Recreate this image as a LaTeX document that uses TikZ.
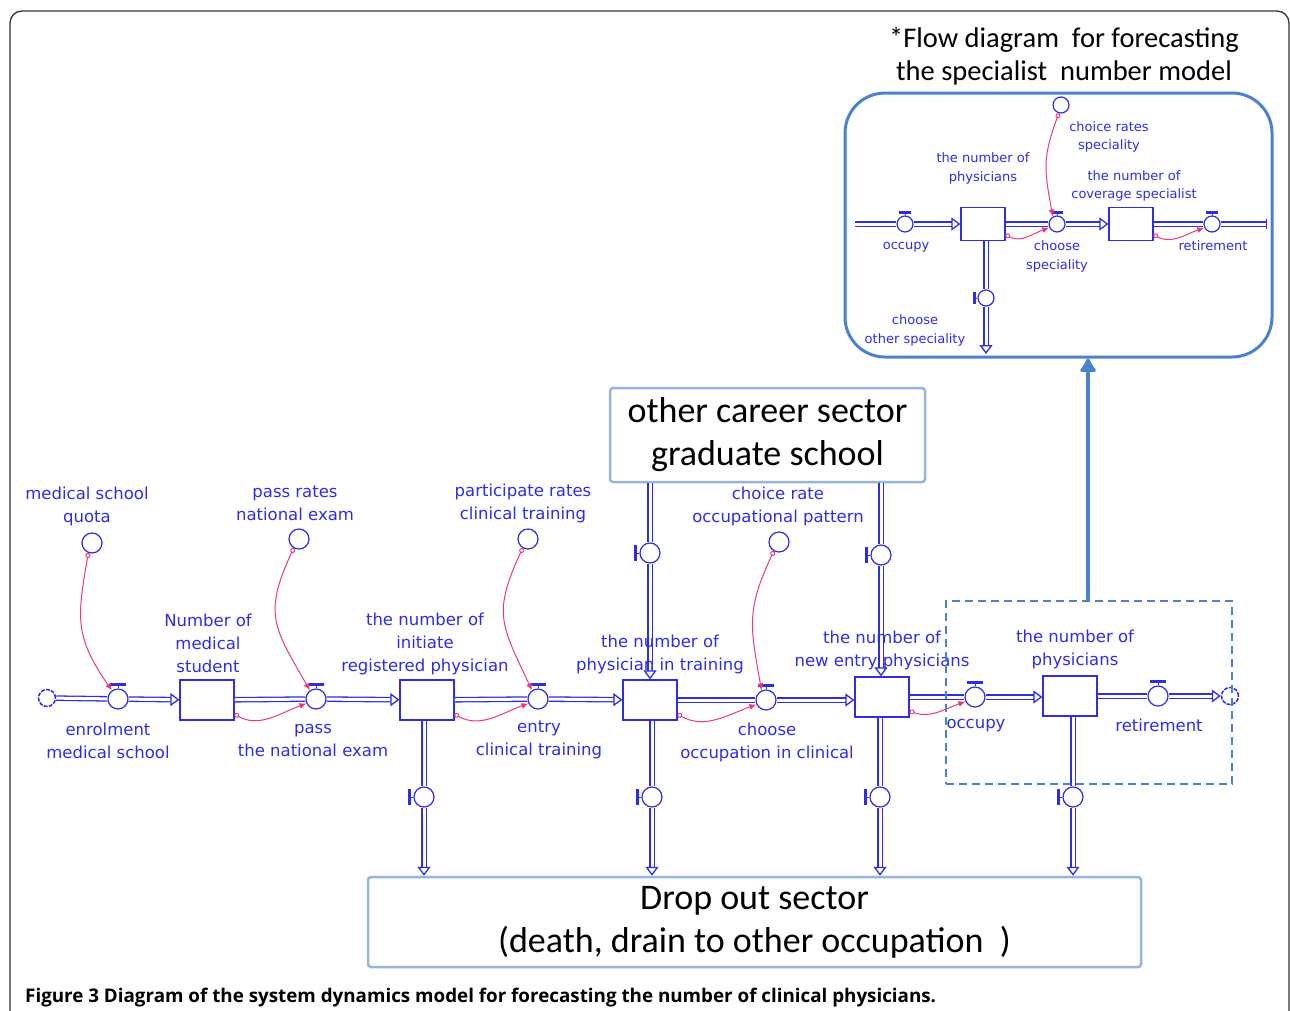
\documentclass[tikz,border=0pt]{standalone}
\usepackage{fontspec}
\setmainfont{DejaVu Sans}
\newfontfamily\boxfont{Carlito}
\newfontfamily\capfont{Open Sans}
\usetikzlibrary{arrows.meta,positioning}

\definecolor{flowblue}{RGB}{45,45,225}
\definecolor{linkpink}{RGB}{235,55,125}
\definecolor{sectorblue}{RGB}{150,180,220}
\definecolor{zoomblue}{RGB}{75,130,205}

\tikzset{
  stock/.style={draw=flowblue, fill=white, line width=1.2pt, minimum width=54pt, minimum height=40pt, inner sep=0pt},
  valve/.style={circle, draw=flowblue, fill=white, line width=1.2pt, minimum size=20pt, inner sep=0pt},
  aux/.style={circle, draw=flowblue, line width=1.2pt, minimum size=20pt, inner sep=0pt},
  cloud/.style={circle, draw=flowblue, fill=white, line width=1.5pt, dash pattern=on 4pt off 1.2pt, minimum size=17pt, inner sep=0pt},
  pipe/.style={draw=flowblue, double=white, double distance=3pt, line width=1.3pt},
  pipein/.style={pipe, -{Triangle[open, length=9pt, width=13pt]}},
  link/.style={draw=linkpink, line width=1pt, {Circle[open, length=5pt]}-{Latex[length=7pt, width=6pt]}},
  lbl/.style={text=flowblue, font=\fontsize{16.5}{23}\selectfont, align=center},
  small/.style={text=flowblue, font=\fontsize{13}{18.5}\selectfont, align=center},
  sector/.style={draw=sectorblue, line width=2.5pt, rounded corners=3pt, fill=white, align=center, font=\boxfont\fontsize{36}{43}\selectfont}
}

% valve handles
\newcommand{\gatetop}[2][8]{%
  \draw[flowblue, line width=1pt] (#2.north) -- ++(0,#1/2);
  \draw[flowblue, line width=2.4pt] (#2.north) ++(-#1,#1/2) -- ++(2*#1,0);}
\newcommand{\gateleft}[2][8]{%
  \draw[flowblue, line width=1pt] (#2.west) -- ++(-#1/2,0);
  \draw[flowblue, line width=2.4pt] (#2.west) ++(-#1/2,-#1) -- ++(0,2*#1);}

\begin{document}
\begin{tikzpicture}[x=1pt, y=1pt]
  \useasboundingbox (0,0) rectangle (1290,-1010);
  % outer frame
  \draw[black!80, line width=1.3pt, rounded corners=12pt] (10,-11) rectangle (1289,-1040);

  % sectors
  \node[sector, minimum width=315pt, minimum height=94pt] (career) at (767.5,-435) {other career sector\\graduate school};
  \node[sector, minimum width=773pt, minimum height=90pt] (drop) at (754.5,-922) {Drop out sector\\(death, drain to other occupation~~)};

  % stocks
  \node[stock] (s1) at (207,-700) {};
  \node[stock] (s2) at (427,-700) {};
  \node[stock] (s3) at (650,-700) {};
  \node[stock] (s4) at (882,-697) {};
  \node[stock] (s5) at (1070,-696) {};

  % flows along the chain
  \node[cloud] (src) at (47,-698) {};
  \node[valve] (v1) at (118,-699) {};
  \node[valve] (v2) at (316,-699) {};
  \node[valve] (v3) at (538,-699) {};
  \node[valve] (v4) at (766,-700) {};
  \node[valve] (v5) at (975,-697) {};
  \node[valve] (v6) at (1158,-696) {};
  \node[cloud] (sink) at (1230,-696) {};
  \foreach \v in {v1,v2,v3,v4,v5,v6} {\gatetop{\v}}

  \draw[pipe] (src) -- (v1);
  \draw[pipein] (v1) -- (s1);
  \draw[pipe] (s1) -- (v2);
  \draw[pipein] (v2) -- (s2);
  \draw[pipe] (s2) -- (v3);
  \draw[pipein] (v3) -- (s3);
  \draw[pipe] (s3.east |- v4) -- (v4);
  \draw[pipein] (v4) -- (s4.west |- v4);
  \draw[pipe] (s4.east |- v5) -- (v5);
  \draw[pipein] (v5) -- (s5.west |- v5);
  \draw[pipe] (s5) -- (v6);
  \draw[pipein] (v6) -- (sink);

  % inflows from the career sector
  \node[valve] (vi3) at (650,-553) {};
  \node[valve] (vi4) at (881,-555) {};
  \foreach \v in {vi3,vi4} {\gateleft{\v}}
  \draw[pipe] (career.south -| vi3) -- (vi3);
  \draw[pipein] (vi3) -- (s3.north);
  \draw[pipe] (career.south -| vi4) -- (vi4);
  \draw[pipein] (vi4) -- (s4.north -| vi4);

  % outflows to the drop out sector
  \node[valve] (vo2) at (424,-797) {};
  \node[valve] (vo3) at (652,-797) {};
  \node[valve] (vo4) at (880,-797) {};
  \node[valve] (vo5) at (1073,-797) {};
  \foreach \v in {vo2,vo3,vo4,vo5} {\gateleft{\v}}
  \foreach \s/\v in {s2/vo2,s3/vo3,s4/vo4,s5/vo5} {
    \draw[pipe] (\s.south -| \v) -- (\v);
    \draw[pipein] (\v) -- (drop.north -| \v);
  }

  % auxiliaries
  \node[aux] (a1) at (92,-543) {};
  \node[aux] (a2) at (299,-539) {};
  \node[aux] (a3) at (528,-539) {};
  \node[aux] (a4) at (779,-542) {};

  % links
  \draw[link] (a1.250) to[out=-100, in=125, looseness=1.2] (v1.125);
  \draw[link] (a2.240) to[out=-115, in=120, looseness=1.3] (v2.125);
  \draw[link] (a3.240) to[out=-115, in=115, looseness=1.3] (v3.125);
  \draw[link] (a4.240) to[out=-115, in=100, looseness=1.2] (v4.115);
  \draw[link] (s1.-27) to[out=-30, in=200] (v2.205);
  \draw[link] (s2.-27) to[out=-30, in=200] (v3.205);
  \draw[link] (s3.-27) to[out=-30, in=200] (v4.205);
  \draw[link] (s4.-27) to[out=-20, in=200] (v5.205);

  % labels
  \node[lbl] at (87,-506.5) {medical school\\quota};
  \node[lbl] at (295,-503.5) {pass rates\\national exam};
  \node[lbl] at (523,-503) {participate rates\\clinical training};
  \node[lbl] at (778,-506.5) {choice rate\\occupational pattern};
  \node[lbl] at (208,-643) {Number of\\medical\\student};
  \node[lbl] at (425,-644) {the number of\\initiate\\registered physician};
  \node[lbl] at (660,-654) {the number of\\physician in training};
  \node[lbl] at (882,-650.5) {the number of\\new entry physicians};
  \node[lbl] at (1075,-649.5) {the number of\\physicians};
  \node[lbl] at (108,-740.5) {enrolment\\medical school};
  \node[lbl] at (313,-740) {pass\\the national exam};
  \node[lbl] at (539,-740) {entry\\clinical training};
  \node[lbl] at (767,-742) {choose\\occupation in clinical};
  \node[lbl] at (976,-726) {occupy};
  \node[lbl] at (1159,-725) {retirement};

  % zoomed part and inset
  \node[draw=zoomblue, line width=2.5pt, dash pattern=on 8pt off 5pt, minimum width=286pt, minimum height=183pt] (zoom) at (1089,-692.5) {};
  \node[draw=zoomblue, line width=3pt, rounded corners=40pt, minimum width=427pt, minimum height=264pt] (inset) at (1058.5,-225) {};
  \draw[zoomblue, line width=4pt, -{Latex[length=16pt, width=20pt, round]}] (zoom.north -| 1088,0) -- (inset.south -| 1088,0);
  \node[font=\boxfont\fontsize{28.5}{33}\selectfont, align=center] (title) at (1064,-56) {*Flow diagram~~for forecasting\\the specialist~~number model};

  % inset model
  \coordinate (istart) at (855,-224);
  \coordinate (iend) at (1266,-224);
  \node[valve, minimum size=16pt] (iv1) at (905,-224) {};
  \node[stock, minimum width=44pt, minimum height=33pt] (is1) at (983,-224) {};
  \node[valve, minimum size=16pt] (iv2) at (1057,-224) {};
  \node[stock, minimum width=44pt, minimum height=33pt] (is2) at (1131,-224) {};
  \node[valve, minimum size=16pt] (iv3) at (1212,-224) {};
  \node[valve, minimum size=16pt] (iv4) at (986,-298) {};
  \node[aux, minimum size=16pt] (ia) at (1061,-105) {};
  \coordinate (iout) at (986,-354);
  \foreach \v in {iv1,iv2,iv3} {\gatetop[6]{\v}}
  \gateleft[6]{iv4}
  \draw[pipe] (istart) -- (iv1);
  \draw[pipein] (iv1) -- (is1);
  \draw[pipe] (is1) -- (iv2);
  \draw[pipein] (iv2) -- (is2);
  \draw[pipe] (is2) -- (iv3);
  \draw[pipe] (iv3) -- (iend);
  \draw[flowblue, line width=1pt] (iend) ++(0,5) -- ++(0,-10);
  \draw[pipe] (is1.south -| iv4) -- (iv4);
  \draw[pipein] (iv4) -- (iout);
  \draw[link] (ia.255) to[out=-110, in=100, looseness=1.2] (iv2.120);
  \draw[link] (is1.-25) to[out=-30, in=200] (iv2.205);
  \draw[link] (is2.-25) to[out=-30, in=200] (iv3.205);
  \node[small] at (1109,-137) {choice rates\\speciality};
  \node[small] at (983,-168.5) {the number of\\physicians};
  \node[small] at (1134,-186) {the number of\\coverage specialist};
  \node[small] at (906,-247) {occupy};
  \node[small] at (1057,-256.5) {choose\\speciality};
  \node[small] at (1213,-246) {retirement};
  \node[small] at (915,-330.5) {choose\\other speciality};

  % caption
  \node[anchor=base west, inner sep=0pt, font=\capfont\bfseries\fontsize{18.8}{18.8}\selectfont] (caption) at (25,-1002) {Figure 3 Diagram of the system dynamics model for forecasting the number of clinical physicians.};
\end{tikzpicture}
\end{document}
